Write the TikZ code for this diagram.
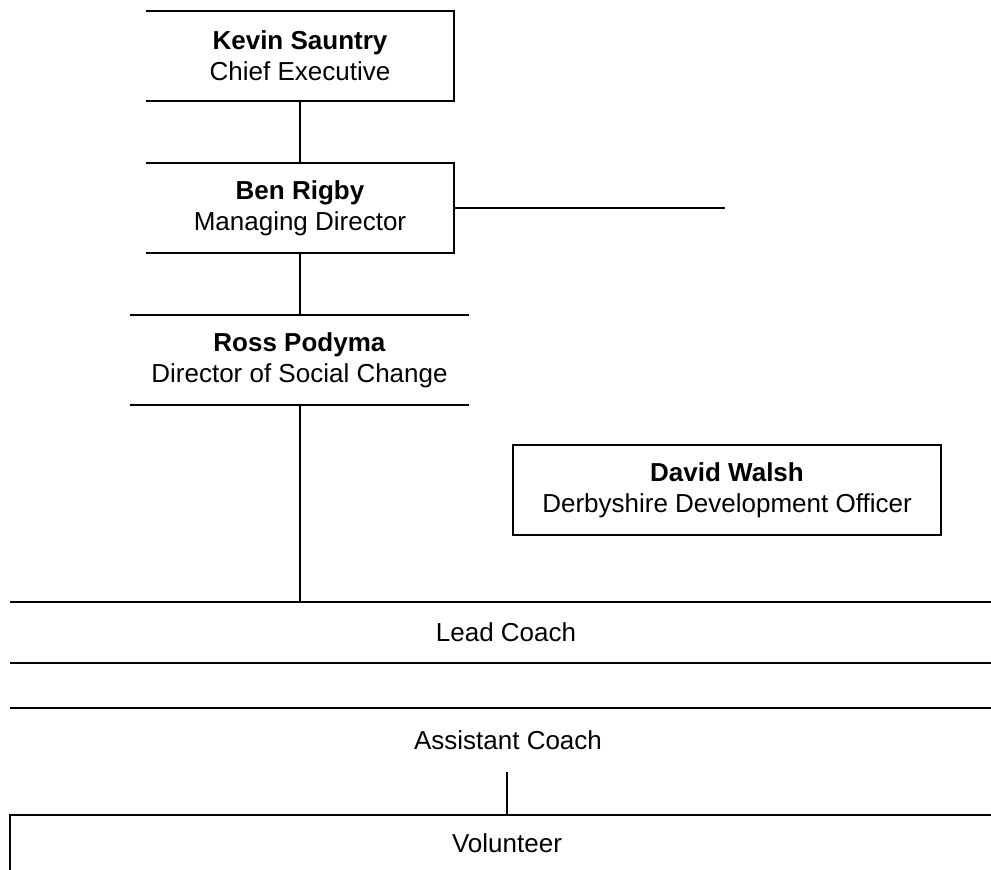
\documentclass[tikz,border=0pt]{standalone}
\usepackage{fontspec}
\setmainfont{Liberation Sans}
\usepackage{tikz}

\begin{document}
\begin{tikzpicture}[x=0.5pt,y=-0.5pt, inner sep=0pt,
  font=\fontsize{13}{15.5}\selectfont,
  post/.style={align=center, minimum height=45pt},
  rule/.style={line width=1pt},
  link/.style={line width=0.7pt}]
\useasboundingbox (0,0) rectangle (991,870);
\node (ks) at (300,56) [post, minimum width=154pt] {\textbf{Kevin Sauntry}\\Chief Executive};
\node (br) at (300,208) [post, minimum width=154pt] {\textbf{Ben Rigby}\\Managing Director};
\node (rp) at (299.5,360) [post, minimum width=169.5pt] {\textbf{Ross Podyma}\\Director of Social Change};
\node (dw) at (727,490) [post, minimum width=214pt, draw, rule] {\textbf{David Walsh}\\Derbyshire Development Officer};
\node (lc) at (506,632.5) [align=center, minimum height=30.5pt] {Lead Coach};
\node (ac) at (508,740) [align=center, minimum height=32pt] {Assistant Coach};
\node (vo) at (507,843) [align=center, minimum height=28pt] {Volunteer};
\coordinate (brend) at (725,208);
% boxes, open on the left
\draw[rule] (ks.north west) -- (ks.north east) -- (ks.south east) -- (ks.south west);
\draw[rule] (br.north west) -- (br.north east) -- (br.south east) -- (br.south west);
\draw[rule] (rp.north west) -- (rp.north east);
\draw[rule] (rp.south west) -- (rp.south east);
\draw[rule] (10,602) -- (991,602);
\draw[rule] (10,663) -- (991,663);
\draw[rule] (10,708) -- (991,708);
\draw[rule] (10,871) -- (10,815) -- (991,815);
% connectors
\draw[link] (ks.south) -- (br.north);
\draw[link] (br.south) -- (rp.north -| br.south);
\draw[link] (br.east) -- (brend);
\draw[link] (rp.south -| br.south) -- (br.south |- lc.north);
\draw[link] (ac.south -| vo.north) -- (vo.north);
\end{tikzpicture}
\end{document}
